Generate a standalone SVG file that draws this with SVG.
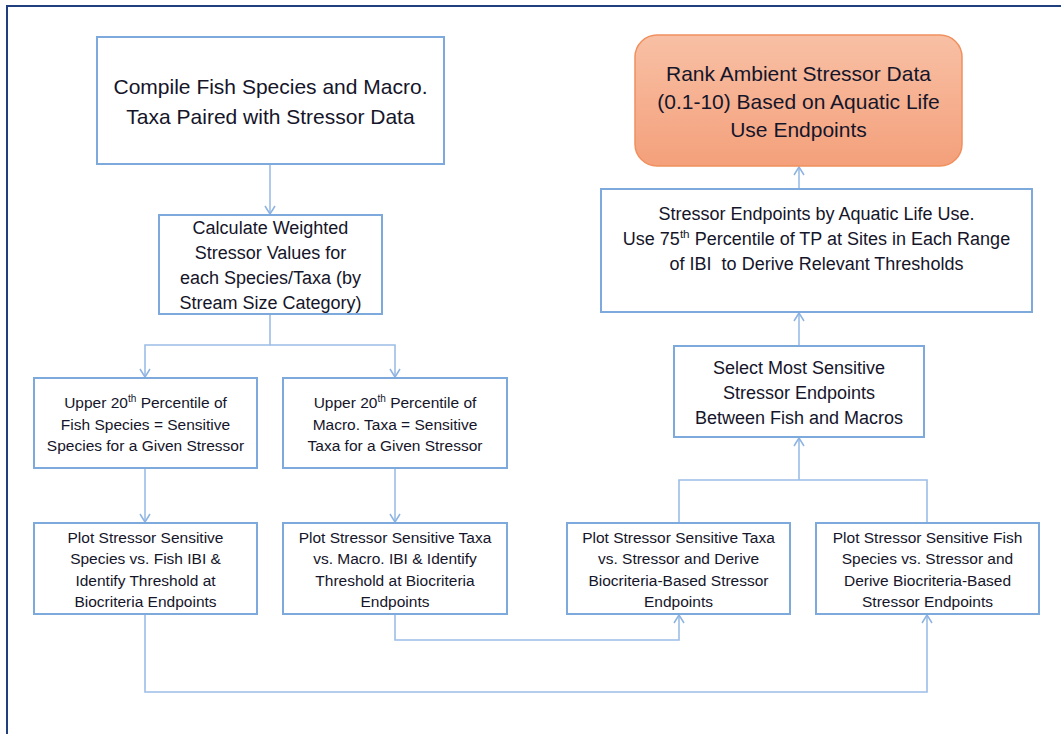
<svg xmlns="http://www.w3.org/2000/svg" width="1061" height="734" viewBox="0 0 1061 734">
<defs>
<linearGradient id="og" x1="0" y1="0" x2="0" y2="1">
<stop offset="0" stop-color="#f8c0a5"/>
<stop offset="1" stop-color="#f4a07b"/>
</linearGradient>
<marker id="ah" markerUnits="userSpaceOnUse" markerWidth="12" markerHeight="12" viewBox="0 0 12 12" refX="10" refY="6" orient="auto">
<path d="M2,1 L10,6 L2,11" fill="none" stroke="#8db3e2" stroke-width="1.5"/>
</marker>
<style>
.box{fill:#ffffff;stroke:#7ea9dc;stroke-width:2}
.t{font-family:"Liberation Sans",Arial,sans-serif;fill:#15152a;text-anchor:middle}
.c{fill:none;stroke:#9cbde6;stroke-width:1.6}
.sup{font-size:65%}
</style>
</defs>
<rect x="0" y="0" width="1061" height="734" fill="#ffffff"/>
<rect x="7" y="6" width="1070" height="740" fill="none" stroke="#1f3f7f" stroke-width="2"/>
<g id="connectors">
<path class="c" d="M270,164 V214" marker-end="url(#ah)"/>
<path class="c" d="M270,314 V345 H145 V377" marker-end="url(#ah)"/>
<path class="c" d="M270,345 H395 V377" marker-end="url(#ah)"/>
<path class="c" d="M145,468 V522" marker-end="url(#ah)"/>
<path class="c" d="M395,468 V522" marker-end="url(#ah)"/>
<path class="c" d="M395,614 V640 H679 V615" marker-end="url(#ah)"/>
<path class="c" d="M145,614 V692 H927 V615" marker-end="url(#ah)"/>
<path class="c" d="M679,523 V480 H927 V523"/>
<path class="c" d="M799,480 V438" marker-end="url(#ah)"/>
<path class="c" d="M799,346 V313" marker-end="url(#ah)"/>
<path class="c" d="M799,189 V167" marker-end="url(#ah)"/>
</g>
<g id="n1">
<rect class="box" x="97" y="37" width="347" height="127"/>
<text class="t" font-size="21"><tspan x="270.5" y="93.5">Compile Fish Species and Macro.</tspan><tspan x="270.5" y="123.5">Taxa Paired with Stressor Data</tspan></text>
</g>
<g id="n2">
<rect class="box" x="159" y="215" width="223" height="99"/>
<text class="t" font-size="18"><tspan x="270.5" y="233.5">Calculate Weighted</tspan><tspan x="270.5" y="258.5">Stressor Values for</tspan><tspan x="270.5" y="283.5">each Species/Taxa (by</tspan><tspan x="270.5" y="308.5">Stream Size Category)</tspan></text>
</g>
<g id="n3">
<rect class="box" x="34" y="378" width="223" height="90"/>
<text class="t" font-size="15.5"><tspan x="145.5" y="407.5">Upper 20<tspan class="sup" dy="-6">th</tspan><tspan dy="6"> Percentile of</tspan></tspan><tspan x="145.5" y="429.5">Fish Species = Sensitive</tspan><tspan x="145.5" y="450.5">Species for a Given Stressor</tspan></text>
</g>
<g id="n4">
<rect class="box" x="283" y="378" width="224" height="90"/>
<text class="t" font-size="15.5"><tspan x="395" y="407.5">Upper 20<tspan class="sup" dy="-6">th</tspan><tspan dy="6"> Percentile of</tspan></tspan><tspan x="395" y="429.5">Macro. Taxa = Sensitive</tspan><tspan x="395" y="450.5">Taxa for a Given Stressor</tspan></text>
</g>
<g id="n5">
<rect class="box" x="34" y="523" width="223" height="91"/>
<text class="t" font-size="15.5"><tspan x="145.5" y="542.5">Plot Stressor Sensitive</tspan><tspan x="145.5" y="564">Species vs. Fish IBI &amp;</tspan><tspan x="145.5" y="585.5">Identify Threshold at</tspan><tspan x="145.5" y="607">Biocriteria Endpoints</tspan></text>
</g>
<g id="n6">
<rect class="box" x="283" y="523" width="224" height="91"/>
<text class="t" font-size="15.5"><tspan x="395" y="542.5">Plot Stressor Sensitive Taxa</tspan><tspan x="395" y="564">vs. Macro. IBI &amp; Identify</tspan><tspan x="395" y="585.5">Threshold at Biocriteria</tspan><tspan x="395" y="607">Endpoints</tspan></text>
</g>
<g id="n7">
<rect class="box" x="567" y="523" width="223" height="91"/>
<text class="t" font-size="15.5"><tspan x="678.5" y="542.5">Plot Stressor Sensitive Taxa</tspan><tspan x="678.5" y="564">vs. Stressor and Derive</tspan><tspan x="678.5" y="585.5">Biocriteria-Based Stressor</tspan><tspan x="678.5" y="607">Endpoints</tspan></text>
</g>
<g id="n8">
<rect class="box" x="816" y="523" width="223" height="91"/>
<text class="t" font-size="15.5"><tspan x="927.5" y="542.5">Plot Stressor Sensitive Fish</tspan><tspan x="927.5" y="564">Species vs. Stressor and</tspan><tspan x="927.5" y="585.5">Derive Biocriteria-Based</tspan><tspan x="927.5" y="607">Stressor Endpoints</tspan></text>
</g>
<g id="n9">
<rect class="box" x="674" y="346" width="250" height="91"/>
<text class="t" font-size="18"><tspan x="799" y="373.5">Select Most Sensitive</tspan><tspan x="799" y="398.5">Stressor Endpoints</tspan><tspan x="799" y="423.5">Between Fish and Macros</tspan></text>
</g>
<g id="n10">
<rect class="box" x="601" y="189" width="431" height="123"/>
<text class="t" font-size="18"><tspan x="816.5" y="219.5">Stressor Endpoints by Aquatic Life Use.</tspan><tspan x="816.5" y="244.5">Use 75<tspan class="sup" dy="-7">th</tspan><tspan dy="7"> Percentile of TP at Sites in Each Range</tspan></tspan><tspan x="816.5" y="269.5" xml:space="preserve">of IBI  to Derive Relevant Thresholds</tspan></text>
</g>
<g id="n11">
<rect x="635" y="35" width="327" height="131" rx="22" ry="22" fill="url(#og)" stroke="#f0905e" stroke-width="1.5"/>
<text class="t" font-size="21"><tspan x="798.5" y="80.5">Rank Ambient Stressor Data</tspan><tspan x="798.5" y="108.5">(0.1-10) Based on Aquatic Life</tspan><tspan x="798.5" y="137">Use Endpoints</tspan></text>
</g>
</svg>
